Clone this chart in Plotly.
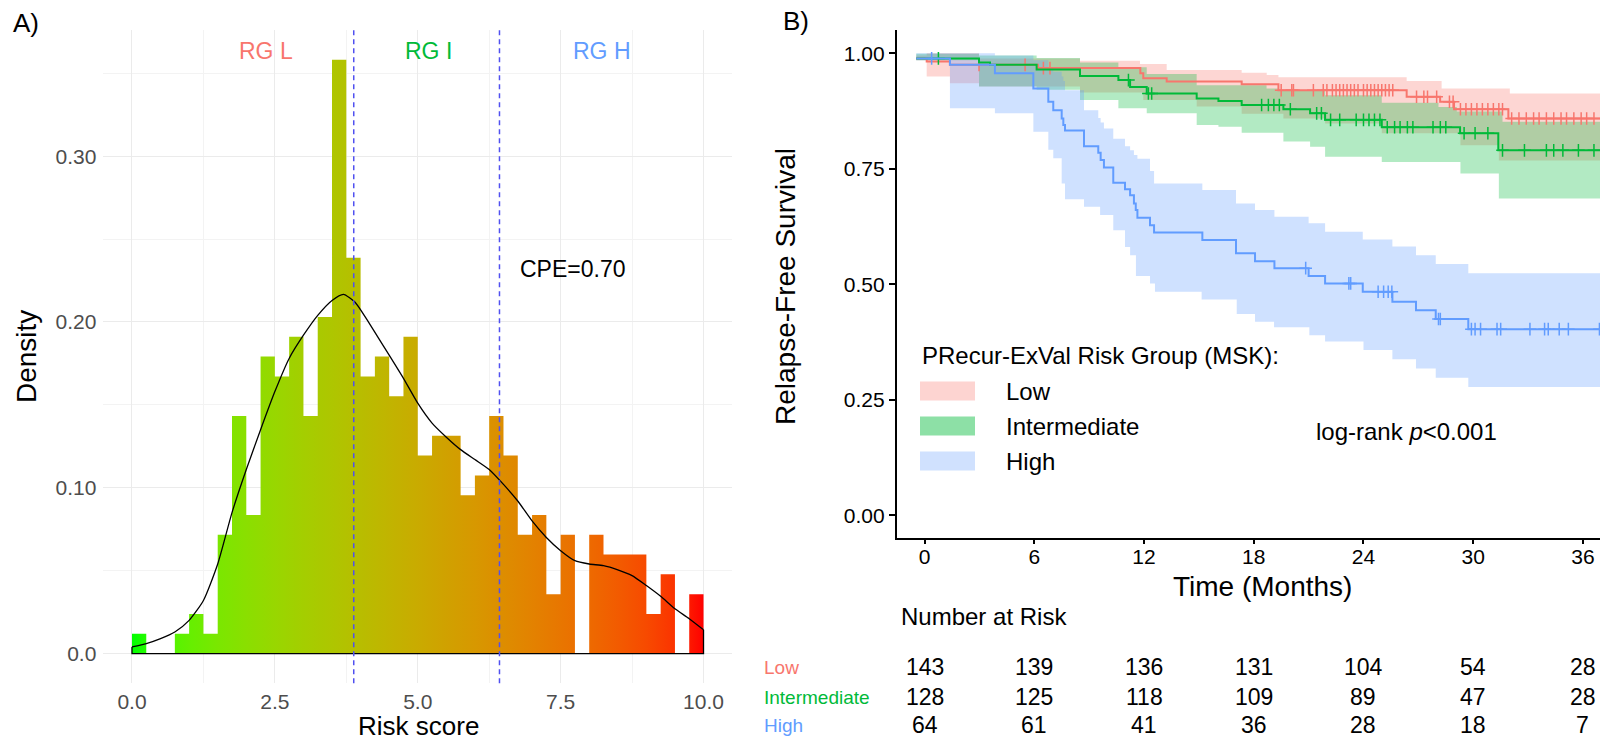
import numpy as np
import plotly.graph_objects as go

W, H = 1600, 740
FONT = "Liberation Sans, Arial, Helvetica, sans-serif"

# ---------------- Panel A data ----------------
bin_width = 0.25
bin_counts = [1, 0, 0, 1, 2, 1, 6, 12, 7, 15, 14, 16, 12, 17, 30, 20, 14, 15, 13, 16,
              10, 11, 11, 8, 9, 12, 10, 6, 7, 3, 6, 0, 6, 5, 5, 5, 2, 4, 0, 3]
kde_x = [0, 0.25, 0.5, 0.75, 1.0, 1.25, 1.5, 1.75, 2.0, 2.25, 2.5, 2.75, 3.0, 3.25, 3.5, 3.7,
         3.9, 4.1, 4.3, 4.5, 4.75, 5.0, 5.25, 5.5, 5.75, 6.0, 6.25, 6.5, 6.75, 7.0, 7.25, 7.5,
         7.75, 8.0, 8.25, 8.5, 8.75, 9.0, 9.25, 9.5, 9.75, 10.0]
kde_y = [0.004, 0.006, 0.009, 0.013, 0.020, 0.032, 0.054, 0.085, 0.111, 0.135, 0.158, 0.178,
         0.192, 0.204, 0.213, 0.2167, 0.212, 0.202, 0.191, 0.180, 0.166, 0.151, 0.139, 0.1305,
         0.123, 0.117, 0.111, 0.102, 0.092, 0.080, 0.070, 0.062, 0.056, 0.054, 0.053, 0.0505,
         0.047, 0.041, 0.0345, 0.027, 0.021, 0.0143]
cutpoints = [3.88, 6.43]
group_labels = ["RG L", "RG I", "RG H"]
group_label_x = [2.34, 5.18, 8.22]
cpe_text = "CPE=0.70"

# ---------------- Panel B data ----------------
groups = ["Low", "Intermediate", "High"]
colors = ["#F8766D", "#00BA38", "#619CFF"]
ribbon_colors = ["rgba(248,118,109,0.3)", "rgba(0,186,56,0.3)", "rgba(97,156,255,0.3)"]
key_colors = ["#FDD4D1", "#8DE0A6", "#D0E1FE"]

low_t = [-0.45, 0.12, 1.39, 6.2, 11.8, 11.96, 13.24, 17.34, 19.35, 26.36, 28.19, 28.95, 31.92]
low_s = [0.989, 0.982, 0.975, 0.968, 0.957, 0.946, 0.939, 0.933, 0.920, 0.906, 0.895, 0.879, 0.859]
low_up_t = [-0.45, 0.12, 2.98, 8.5, 11.78, 13.24, 17.34, 18.71, 19.35, 26.36, 28.27, 32.0]
low_up_v = [0.995, 1.0, 0.989, 0.984, 0.977, 0.964, 0.958, 0.953, 0.948, 0.940, 0.924, 0.913]
low_lo_t = [-0.45, 0.12, 1.39, 2.98, 8.5, 11.96, 14.88, 17.34, 19.62, 21.9, 25.0, 29.3, 31.4]
low_lo_v = [0.985, 0.95, 0.935, 0.928, 0.915, 0.899, 0.885, 0.869, 0.859, 0.848, 0.827, 0.801, 0.768]
low_cens = [2.98, 5.5, 6.5, 6.86, 19.5, 20.08, 20.17, 21.26, 21.8, 22.0, 22.3, 22.5, 22.7, 22.9,
            23.1, 23.3, 23.5, 23.7, 24.0, 24.2, 24.4, 24.6, 24.8, 25.0, 25.2, 25.4, 25.6, 26.9,
            27.3, 27.5, 28.0, 28.7, 28.9, 29.3, 29.6, 29.9, 30.2, 30.5, 30.8, 31.1, 31.4, 31.6,
            32.1, 32.5, 32.9, 33.3, 33.6, 34.0, 34.4, 34.8, 35.1, 35.5, 35.9, 36.2, 36.6]

int_t = [-0.45, 2.98, 3.58, 6.13, 8.5, 10.6, 11.24, 12.15, 14.88, 16.07, 17.34, 19.62, 21.08,
         21.9, 25.0, 29.28, 31.37]
int_s = [0.989, 0.980, 0.975, 0.965, 0.951, 0.942, 0.927, 0.913, 0.902, 0.897, 0.888, 0.879,
         0.870, 0.856, 0.840, 0.827, 0.790]
int_up_t = [-0.45, 2.98, 6.13, 8.5, 10.6, 12.15, 14.88, 18.7, 19.35, 21.9, 25.0, 28.1, 29.1, 31.6]
int_up_v = [0.999, 0.995, 0.99, 0.98, 0.97, 0.955, 0.931, 0.924, 0.920, 0.909, 0.893, 0.884,
            0.874, 0.852]
int_lo_t = [-0.45, 2.98, 6.13, 8.5, 10.6, 12.15, 14.88, 16.07, 17.34, 19.62, 21.08, 21.9, 25.0,
            29.3, 31.4]
int_lo_v = [0.985, 0.928, 0.921, 0.899, 0.881, 0.87, 0.845, 0.841, 0.828, 0.809, 0.798, 0.776,
            0.765, 0.740, 0.686]
int_cens = [0.76, 11.15, 12.24, 12.42, 18.43, 18.8, 19.1, 19.4, 20.0, 21.44, 21.7, 22.2, 22.7,
            23.6, 24.0, 24.3, 24.6, 24.9, 25.3, 25.7, 26.0, 26.4, 26.7, 27.8, 28.2, 28.5, 29.5,
            30.1, 30.8, 31.6, 32.8, 34.0, 34.4, 34.9, 35.75, 36.6]

high_t = [-0.45, 1.39, 3.85, 5.95, 6.77, 7.04, 7.50, 7.59, 7.68, 8.72, 9.50, 9.63, 9.81, 10.32,
          10.96, 11.24, 11.45, 11.55, 11.64, 12.33, 12.55, 15.19, 17.03, 18.07, 19.13, 21.0,
          21.9, 23.96, 25.58, 26.87, 27.95, 29.73]
high_s = [0.989, 0.975, 0.957, 0.924, 0.895, 0.877, 0.859, 0.845, 0.833, 0.799, 0.785, 0.769,
          0.753, 0.720, 0.706, 0.693, 0.675, 0.661, 0.644, 0.628, 0.612, 0.596, 0.567, 0.550,
          0.535, 0.518, 0.502, 0.484, 0.462, 0.444, 0.425, 0.403]
high_up_t = [-0.45, 3.85, 5.95, 6.77, 7.04, 7.50, 7.59, 7.68, 8.72, 9.50, 9.63, 9.81, 10.32,
             10.96, 11.24, 11.45, 11.64, 12.33, 12.55, 15.19, 17.03, 18.07, 19.13, 21.0, 21.9,
             23.96, 25.58, 26.87, 27.95, 29.73]
high_up_v = [1.0, 0.995, 0.985, 0.97, 0.96, 0.95, 0.94, 0.92, 0.877, 0.86, 0.85, 0.837, 0.815,
             0.799, 0.79, 0.78, 0.772, 0.745, 0.718, 0.704, 0.675, 0.661, 0.646, 0.632, 0.614,
             0.597, 0.582, 0.563, 0.544, 0.524]
high_lo_t = [-0.45, 1.39, 3.85, 5.95, 6.77, 7.04, 7.50, 7.68, 8.72, 9.60, 10.32, 10.96, 11.24,
             11.56, 12.33, 12.60, 15.15, 17.07, 18.07, 19.11, 21.04, 21.9, 24.0, 25.58, 26.87,
             27.95, 29.73]
high_lo_v = [0.985, 0.881, 0.870, 0.830, 0.791, 0.773, 0.718, 0.684, 0.668, 0.650, 0.617, 0.581,
             0.563, 0.518, 0.502, 0.484, 0.467, 0.436, 0.419, 0.407, 0.390, 0.376, 0.358, 0.338,
             0.318, 0.298, 0.278]
high_cens = [0.39, 20.84, 23.2, 23.3, 24.8, 25.1, 25.35, 25.55, 28.1, 28.2, 29.9, 30.1, 30.4,
             31.3, 31.5, 33.1, 33.9, 34.1, 34.7, 35.2, 36.9]

risk_times = [0, 6, 12, 18, 24, 30, 36]
risk_low = [143, 139, 136, 131, 104, 54, 28]
risk_int = [128, 125, 118, 109, 89, 47, 28]
risk_high = [64, 61, 41, 36, 28, 18, 7]
pvalue_text = "log-rank <i>p</i><0.001"
legend_title = "PRecur-ExVal Risk Group (MSK):"

END_T = 38.0


# ---------------- helpers ----------------
def px(x):
    return x / W


def py(y):
    return 1 - y / H


def _lin(c):
    c = c / 255.0
    return ((c + 0.055) / 1.055) ** 2.4 if c > 0.04045 else c / 12.92


def _gam(c):
    c = max(0.0, min(1.0, c))
    v = 1.055 * c ** (1 / 2.4) - 0.055 if c > 0.0031308 else 12.92 * c
    return int(round(max(0, min(1, v)) * 255))


def hex_to_lab(h):
    r, g, b = [_lin(int(h[i:i + 2], 16)) for i in (1, 3, 5)]
    X = (0.4124 * r + 0.3576 * g + 0.1805 * b) / 0.95047
    Y = (0.2126 * r + 0.7152 * g + 0.0722 * b) / 1.0
    Z = (0.0193 * r + 0.1192 * g + 0.9505 * b) / 1.08883
    f = lambda t: t ** (1 / 3) if t > 0.008856 else 7.787 * t + 16 / 116
    fx, fy, fz = f(X), f(Y), f(Z)
    return 116 * fy - 16, 500 * (fx - fy), 200 * (fy - fz)


def lab_to_rgb(L, a, b):
    fy = (L + 16) / 116
    fx = fy + a / 500
    fz = fy - b / 200
    finv = lambda t: t ** 3 if t ** 3 > 0.008856 else (t - 16 / 116) / 7.787
    X, Y, Z = finv(fx) * 0.95047, finv(fy), finv(fz) * 1.08883
    r = 3.2406 * X - 1.5372 * Y - 0.4986 * Z
    g = -0.9689 * X + 1.8758 * Y + 0.0415 * Z
    bb = 0.0557 * X - 0.2040 * Y + 1.0570 * Z
    return "rgb(%d,%d,%d)" % (_gam(r), _gam(g), _gam(bb))


def step_path(t, v, end):
    xs, ys = [], []
    for i in range(len(t)):
        x1 = t[i + 1] if i + 1 < len(t) else end
        xs += [t[i], x1]
        ys += [v[i], v[i]]
    return xs, ys


def step_value(t, v, c):
    idx = 0
    for i, ti in enumerate(t):
        if ti <= c:
            idx = i
    return v[idx]


# ---------------- figure ----------------
fig = go.Figure()

# Panel A: gradient histogram
n_total = sum(bin_counts)
density = [c / (n_total * bin_width) for c in bin_counts]
edges = [i * bin_width for i in range(len(bin_counts) + 1)]
lab_lo = hex_to_lab("#00FF00")
lab_hi = hex_to_lab("#FF0000")
cscale = []
for k in range(21):
    f = k / 20
    lab = [lab_lo[j] + f * (lab_hi[j] - lab_lo[j]) for j in range(3)]
    cscale.append([f, lab_to_rgb(*lab)])

fig.add_trace(go.Scatter(
    x=edges, y=density + [density[-1]], mode="lines", line_shape="hv",
    line=dict(width=0, color="rgba(0,0,0,0)"), fill="tozeroy",
    fillgradient=dict(type="horizontal", colorscale=cscale, start=0, stop=10),
    xaxis="x", yaxis="y", hoverinfo="skip", showlegend=False))

# density outline
fig.add_trace(go.Scatter(
    x=kde_x, y=kde_y, mode="lines", line=dict(color="black", width=1.3, shape="spline", smoothing=0.6),
    xaxis="x", yaxis="y", hoverinfo="skip", showlegend=False))
fig.add_trace(go.Scatter(
    x=[kde_x[0], kde_x[0], kde_x[-1], kde_x[-1]], y=[kde_y[0], 0, 0, kde_y[-1]], mode="lines",
    line=dict(color="black", width=1.3), xaxis="x", yaxis="y", hoverinfo="skip", showlegend=False))

shapes = []
for cp in cutpoints:
    shapes.append(dict(type="line", xref="x", yref="y domain", x0=cp, x1=cp, y0=0, y1=1,
                       line=dict(color="#5050F0", width=1.5, dash="5px,4px"), layer="above"))

# Panel B: KM ribbons, curves, censor marks
km = [
    (low_t, low_s, low_up_t, low_up_v, low_lo_t, low_lo_v, low_cens),
    (int_t, int_s, int_up_t, int_up_v, int_lo_t, int_lo_v, int_cens),
    (high_t, high_s, high_up_t, high_up_v, high_lo_t, high_lo_v, high_cens),
]
for g, (t, s, ut, uv, lt, lv, cens) in enumerate(km):
    ux, uy = step_path(ut, uv, END_T)
    lx, ly = step_path(lt, lv, END_T)
    fig.add_trace(go.Scatter(
        x=ux + lx[::-1], y=uy + ly[::-1], mode="lines", fill="toself",
        fillcolor=ribbon_colors[g], line=dict(width=0, color="rgba(0,0,0,0)"),
        xaxis="x2", yaxis="y2", hoverinfo="skip", showlegend=False))
for g, (t, s, ut, uv, lt, lv, cens) in enumerate(km):
    sx, sy = step_path(t, s, END_T)
    fig.add_trace(go.Scatter(
        x=sx, y=sy, mode="lines", line=dict(color=colors[g], width=2),
        xaxis="x2", yaxis="y2", name=groups[g], showlegend=False))
    fig.add_trace(go.Scatter(
        x=cens, y=[step_value(t, s, c) for c in cens], mode="markers",
        marker=dict(symbol="cross-thin", size=9, line=dict(color=colors[g], width=1.5)),
        xaxis="x2", yaxis="y2", hoverinfo="skip", showlegend=False))

# ---------------- annotations ----------------
ann = []


def txt(text, x, y, size, color="black", xanchor="center", yanchor="middle", angle=0, xref="paper", yref="paper"):
    ann.append(dict(text=text, x=x, y=y, xref=xref, yref=yref, showarrow=False,
                    font=dict(size=size, color=color, family=FONT), xanchor=xanchor,
                    yanchor=yanchor, textangle=angle))


# panel A
txt("A)", px(11), py(23), 26, xanchor="left")
for lbl, gx, col in zip(group_labels, group_label_x, colors):
    txt(lbl, gx, 0.3635, 23, color=col, xref="x", yref="y")
txt(cpe_text, 7.71, 0.232, 23, xref="x", yref="y")
txt("Density", px(26), py(357), 28, angle=-90)
txt("Risk score", px(418), py(725.5), 26)

# panel B
txt("B)", px(781), py(21), 26, xanchor="left")
txt("Relapse-Free Survival", px(786), py(287), 28, angle=-90)
txt("Time (Months)", px(1262), py(586), 28)
txt(legend_title, px(920), py(355), 24, xanchor="left")
legend_y = [391, 426, 461]
for g in range(3):
    shapes.append(dict(type="rect", xref="paper", yref="paper", x0=px(920), x1=px(975),
                       y0=py(legend_y[g] + 9.5), y1=py(legend_y[g] - 9.5),
                       fillcolor=key_colors[g], line=dict(width=0)))
    txt(groups[g], px(1004), py(legend_y[g]), 24, xanchor="left")
txt(pvalue_text, px(1314), py(431), 24, xanchor="left")

# risk table
txt("Number at Risk", px(899), py(616), 24, xanchor="left")
row_y = [667, 697, 725]
for g, vals in enumerate([risk_low, risk_int, risk_high]):
    txt(groups[g], px(762), py(row_y[g]), 19, color=colors[g], xanchor="left")
    for tm, v in zip(risk_times, vals):
        txt(str(v), tm, py(row_y[g]), 23, xref="x2")

fig.update_layout(
    width=W, height=H, margin=dict(l=0, r=0, t=0, b=0),
    paper_bgcolor="white", plot_bgcolor="white",
    font=dict(family=FONT, color="black"),
    showlegend=False, shapes=shapes, annotations=ann,
    xaxis=dict(domain=[103.4 / W, 732.1 / W], range=[-0.5, 10.5], anchor="y",
               tickmode="array", tickvals=[0, 2.5, 5, 7.5, 10],
               ticktext=["0.0", "2.5", "5.0", "7.5", "10.0"],
               showgrid=True, gridcolor="#EBEBEB", gridwidth=1.4, zeroline=False, showline=False,
               ticks="", ticklabelstandoff=4, tickfont=dict(size=21, color="#4D4D4D"),
               minor=dict(tickmode="array", tickvals=[1.25, 3.75, 6.25, 8.75], showgrid=True,
                          gridcolor="#F3F3F3", gridwidth=1.0)),
    yaxis=dict(domain=[1 - 683.2 / H, 1 - 30.2 / H], range=[-0.0179, 0.376], anchor="x",
               tickmode="array", tickvals=[0, 0.1, 0.2, 0.3],
               ticktext=["0.0", "0.10", "0.20", "0.30"],
               showgrid=True, gridcolor="#EBEBEB", gridwidth=1.4, zeroline=False, showline=False,
               ticks="", ticklabelstandoff=6, tickfont=dict(size=21, color="#4D4D4D"),
               minor=dict(tickmode="array", tickvals=[0.05, 0.15, 0.25, 0.35], showgrid=True,
                          gridcolor="#F3F3F3", gridwidth=1.0)),
    xaxis2=dict(domain=[896.7 / W, 1.0], range=[-1.52, 36.93], anchor="y2",
                tickmode="array", tickvals=risk_times, showgrid=False, zeroline=False,
                showline=True, linecolor="black", linewidth=1.7,
                ticks="outside", ticklen=5, tickwidth=1.7, tickcolor="black",
                ticklabelstandoff=-6, tickfont=dict(size=21, color="black")),
    yaxis2=dict(domain=[1 - 537.5 / H, 1 - 30.2 / H], range=[-0.048, 1.05], anchor="x2",
                tickmode="array", tickvals=[0, 0.25, 0.5, 0.75, 1.0],
                ticktext=["0.00", "0.25", "0.50", "0.75", "1.00"], showgrid=False, zeroline=False,
                showline=True, linecolor="black", linewidth=1.7,
                ticks="outside", ticklen=6, tickwidth=1.7, tickcolor="black",
                tickfont=dict(size=21, color="black")),
)

fig.write_html("out.html", config={"displayModeBar": False})
